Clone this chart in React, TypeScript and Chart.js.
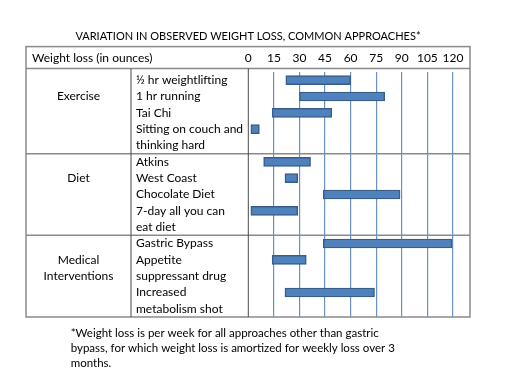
import React, { useEffect, useRef } from 'react';
import { Chart, registerables } from 'chart.js';
Chart.register(...registerables);

const FONT = 'Lato, "Liberation Sans", sans-serif';
const FONT_SIZE = 12;
const TITLE_SIZE = 11;
const NOTE_SIZE = 11.5;

const titleText = 'VARIATION IN OBSERVED WEIGHT LOSS, COMMON APPROACHES*';
const headerLabel = 'Weight loss (in ounces)';

// one entry per text line of the table
const lineLabels = [
  '½ hr weightlifting', '1 hr running', 'Tai Chi', 'Sitting on couch and', 'thinking hard',
  'Atkins', 'West Coast', 'Chocolate Diet', '7-day all you can', 'eat diet',
  'Gastric Bypass', 'Appetite', 'suppressant drug', 'Increased', 'metabolism shot',
];
const groupLabels = [
  '', 'Exercise', '', '', '',
  '', 'Diet', '', '', '',
  '', 'Medical', 'Interventions', '', '',
];
const groupStartIdx = [0, 5, 10];

const lossStart = [22, 30, 14, 1.5, null, 9, 21.5, 44, 1.5, null, 44, 14, null, 21.5, null];
const lossEnd = [60, 80, 49, 6.5, null, 36.5, 29, 89, 29, null, 119.5, 34, null, 74, null];

const xTickValues = [0, 15, 30, 45, 60, 75, 90, 105, 120];
const xMin = 0;
const xMax = 130;

const footnoteLines = [
  '*Weight loss is per week for all approaches other than gastric',
  'bypass, for which weight loss is amortized for weekly loss over 3',
  'months.',
];

const tablePlugin = {
  id: 'tableFrame',
  afterDraw(chart: any) {
    const { ctx, chartArea, scales } = chart;
    const x = scales.x, y = scales.y, y2 = scales.y2;
    const left = y2.left;
    const right = chartArea.right;
    const top = x.top;
    const bottom = chartArea.bottom;
    const headerLine = chartArea.top - 3.5;
    ctx.save();
    ctx.strokeStyle = '#8a8a8a';
    ctx.lineWidth = 1.5;
    ctx.strokeRect(left, top, right - left, bottom - top);
    ctx.beginPath();
    ctx.moveTo(left, headerLine);
    ctx.lineTo(right, headerLine);
    groupStartIdx.slice(1).forEach((i) => {
      const py = (y.getPixelForValue(i - 1) + y.getPixelForValue(i)) / 2;
      ctx.moveTo(left, py);
      ctx.lineTo(right, py);
    });
    ctx.stroke();
    ctx.strokeStyle = '#4a4a4a';
    ctx.lineWidth = 1;
    ctx.beginPath();
    const sep1 = y.left - 5;
    ctx.moveTo(sep1, headerLine);
    ctx.lineTo(sep1, bottom);
    ctx.moveTo(chartArea.left, headerLine);
    ctx.lineTo(chartArea.left, bottom);
    ctx.stroke();
    ctx.fillStyle = '#000';
    ctx.font = `${FONT_SIZE}px ${FONT}`;
    ctx.textBaseline = 'middle';
    ctx.textAlign = 'left';
    ctx.fillText(headerLabel, left + 6, (top + headerLine) / 2 + 0.8);
    ctx.font = `${NOTE_SIZE}px ${FONT}`;
    footnoteLines.forEach((t, i) => {
      ctx.fillText(t, 70.7, bottom + 16.5 + i * 15);
    });
    ctx.restore();
  },
};

function measureWidest(labels: string[]) {
  const c = document.createElement('canvas').getContext('2d');
  if (!c) return 70;
  c.font = `${FONT_SIZE}px ${FONT}`;
  return Math.max(...labels.map((l) => c.measureText(l).width));
}

export default function App() {
  const ref = useRef<HTMLCanvasElement>(null);
  useEffect(() => {
    if (!ref.current) return;
    Chart.defaults.font.family = FONT;
    Chart.defaults.font.size = FONT_SIZE;
    Chart.defaults.color = '#000';
    const groupColWidth = 110;
    const groupCenterFromRight = 57.5;
    const widest = measureWidest(groupLabels);
    const y2Padding = groupCenterFromRight - widest / 2;
    const lh = FONT_SIZE * 1.2;
    const tlh = TITLE_SIZE * 1.2;
    const chart = new Chart(ref.current, {
      type: 'bar',
      data: {
        labels: lineLabels,
        datasets: [
          {
            data: lineLabels.map((_, i) =>
              lossStart[i] == null ? null : [lossStart[i] as number, lossEnd[i] as number]
            ) as any,
            backgroundColor: '#4f81bd',
            borderColor: '#385d8a',
            borderWidth: 1.5,
            borderSkipped: false,
            barThickness: 9,
          },
        ],
      },
      options: {
        indexAxis: 'y',
        animation: false,
        responsive: false,
        layout: { padding: { left: 26, right: 49, top: 0, bottom: 62 } },
        plugins: {
          legend: { display: false },
          tooltip: { enabled: false },
          title: {
            display: true,
            text: titleText,
            color: '#000',
            font: { size: TITLE_SIZE, weight: 'normal' },
            padding: { top: 36.8 - tlh / 2, bottom: 46.6 - 36.8 - tlh / 2 },
          },
        },
        scales: {
          x: {
            type: 'linear',
            position: 'top',
            min: xMin,
            max: xMax,
            afterBuildTicks: (s: any) => {
              s.ticks = xTickValues.map((v) => ({ value: v }));
            },
            afterFit: (s: any) => {
              s.height = 25.4;
            },
            ticks: { autoSkip: false, padding: 72 - 58.3 - lh / 2, color: '#000', maxRotation: 0 },
            grid: {
              drawTicks: false,
              color: (c: any) => (c.tick && c.tick.value === 0 ? 'rgba(0,0,0,0)' : '#6a91c6'),
              lineWidth: 1.2,
            },
            border: { display: false },
          },
          y: {
            type: 'category',
            position: 'left',
            weight: 0,
            offset: true,
            afterFit: (s: any) => {
              s.width = 112.3;
            },
            ticks: { crossAlign: 'far', autoSkip: false, padding: 0, color: '#000' },
            grid: { display: false, drawTicks: false },
            border: { display: false },
          },
          y2: {
            type: 'category',
            labels: groupLabels,
            position: 'left',
            weight: 1,
            offset: true,
            afterFit: (s: any) => {
              s.width = groupColWidth;
            },
            ticks: { crossAlign: 'center', autoSkip: false, padding: y2Padding, color: '#000' },
            grid: { display: false, drawTicks: false },
            border: { display: false },
          },
        } as any,
      },
      plugins: [tablePlugin],
    });
    return () => chart.destroy();
  }, []);
  return (
    <div style={{ position: 'fixed', left: 0, top: 0, width: 519, height: 379, background: '#fff' }}>
      <canvas ref={ref} width={519} height={379} />
    </div>
  );
}
